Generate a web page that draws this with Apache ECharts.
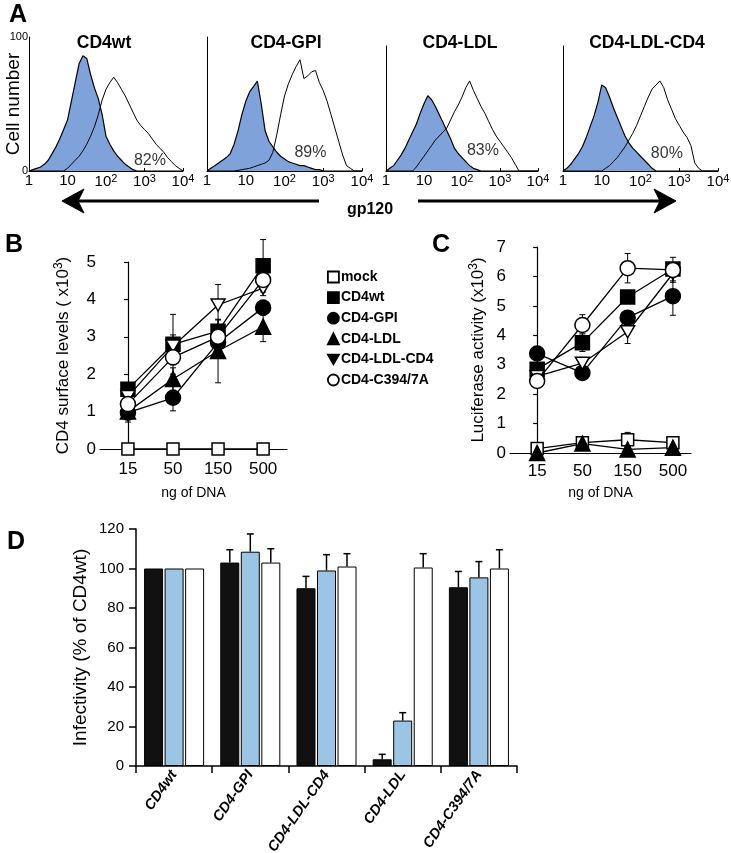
<!DOCTYPE html>
<html>
<head>
<meta charset="utf-8">
<script src="https://cdn.jsdelivr.net/npm/echarts@6/dist/echarts.min.js"></script>
<style>
  html, body { margin: 0; padding: 0; background: #fff; }
  #chart { width: 731px; height: 853px; }
</style>
</head>
<body>
<div id="chart"></div>
<script>
const FONT = '"Liberation Sans", Arial, sans-serif'

// ---- panel A: gp120 binding histograms, counts per 0.1 log10 bin (1 .. 10^4)
const logBins = [0, 0.1, 0.2, 0.3, 0.4, 0.5, 0.6, 0.7, 0.8, 0.9, 1, 1.1, 1.2, 1.3, 1.4, 1.5, 1.6, 1.7, 1.8, 1.9,
  2, 2.1, 2.2, 2.3, 2.4, 2.5, 2.6, 2.7, 2.8, 2.9, 3, 3.1, 3.2, 3.3, 3.4, 3.5, 3.6, 3.7, 3.8, 3.9, 4]
const histTitles = ['CD4wt', 'CD4-GPI', 'CD4-LDL', 'CD4-LDL-CD4']
const histPct = ['82%', '89%', '83%', '80%']

const wtFill = [0, 1, 2, 3, 5, 8, 13, 18, 24, 31, 38, 52, 66, 80, 86, 84, 72, 62, 54, 42,
  26, 20, 15, 11, 8, 5, 3, 1, 0, 0, 0, 0, 0, 0, 0, 0, 0, 0, 0, 0, 0]
const wtOpen = [0, 0, 0, 0, 0, 0, 0, 0, 0, 0, 2, 5, 8, 11, 15, 20, 26, 33, 42, 53,
  61, 66, 70, 66, 61, 56, 50, 44, 38, 34, 31, 28, 24, 20, 17, 14, 10, 7, 4, 2, 0]
const gpiFill = [0, 2, 4, 6, 8, 10, 13, 20, 30, 42, 52, 59, 63, 67, 50, 30, 22, 18, 14, 11,
  9, 7, 6, 5, 4, 4, 3, 2, 1, 1, 0, 0, 0, 0, 0, 0, 0, 0, 0, 0, 0]
const gpiOpen = [0, 0, 0, 0, 0, 0, 0, 0, 0.5, 1, 1.5, 2, 3, 4, 5, 6, 8, 14, 27, 42,
  56, 65, 72, 78, 83, 69, 71, 74, 75, 66, 60, 52, 42, 32, 22, 12, 4, 2, 0, 0, 0]
const ldlFill = [0, 2, 4, 8, 12, 17, 23, 29, 35, 43, 50, 56, 53, 48, 42, 36, 30, 24, 17, 13,
  10, 7, 4, 2, 1, 0, 0, 0, 0, 0, 0, 0, 0, 0, 0, 0, 0, 0, 0, 0, 0]
const ldlOpen = [0, 0, 0, 0, 0, 0, 0, 0, 3, 7, 11, 15, 19, 23, 26, 29, 32, 38, 44, 49,
  55, 62, 67, 60, 54, 48, 43, 37, 31, 26, 22, 18, 14, 10, 5, 0, 0, 0, 0, 0, 0]
const ldlcd4Fill = [0, 2, 5, 9, 13, 18, 25, 33, 41, 51, 64, 62, 55, 47, 40, 33, 26, 21, 17, 14,
  11, 8, 5, 2, 0, 0, 0, 0, 0, 0, 0, 0, 0, 0, 0, 0, 0, 0, 0, 0, 0]
const ldlcd4Open = [0, 0, 0, 0, 0, 0, 0, 0, 0, 0, 0, 2, 4, 7, 10, 14, 18, 23, 28, 34,
  41, 48, 55, 61, 64, 67, 62, 53, 46, 39, 34, 29, 25, 19, 6, 2, 0, 0, 0, 0, 0]

// ---- panels B and C
const doses = ['15', '50', '150', '500']
const constructs = ['mock', 'CD4wt', 'CD4-GPI', 'CD4-LDL', 'CD4-LDL-CD4', 'CD4-C394/7A']

// CD4 surface levels (x10^3) and error
const mockB = [0, 0, 0, 0]
const wtB = [1.6, 2.8, 3.15, 4.9]
const gpiB = [0.97, 1.37, 2.85, 3.78]
const ldlB = [1.0, 1.87, 2.62, 3.27]
const ldlcd4B = [1.4, 2.75, 3.85, 4.3]
const c394B = [1.2, 2.45, 3.0, 4.52]
const mockBErr = [0, 0, 0, 0]
const wtBErr = [0.1, 0.8, 0.3, 0.7]
const gpiBErr = [0.25, 0.35, 0.2, 0.2]
const ldlBErr = [0, 0.3, 0.85, 0.4]
const ldlcd4BErr = [0, 0.3, 0.55, 0.2]
const c394BErr = [0.1, 0.2, 0.25, 0.2]

// luciferase activity (x10^3) and error
const mockC = [0.15, 0.35, 0.45, 0.35]
const wtC = [2.85, 3.75, 5.3, 6.25]
const gpiC = [3.38, 2.72, 4.6, 5.33]
const ldlC = [0.0, 0.32, 0.12, 0.18]
const ldlcd4C = [2.6, 3.05, 4.12, 6.1]
const c394C = [2.45, 4.35, 6.28, 6.22]
const mockCErr = [0.05, 0.05, 0.25, 0.1]
const wtCErr = [0.2, 0.3, 0.2, 0.4]
const gpiCErr = [0.1, 0.15, 0.2, 0.65]
const ldlCErr = [0, 0.05, 0.05, 0.05]
const ldlcd4CErr = [0.15, 0.2, 0.4, 0.3]
const c394CErr = [0.15, 0.35, 0.5, 0.1]

// ---- panel D: infectivity (% of CD4wt)
const dCats = ['CD4wt', 'CD4-GPI', 'CD4-LDL-CD4', 'CD4-LDL', 'CD4-C394/7A']
const dBlack = [100, 103, 90, 3.4, 90.5]
const dBlue = [100, 108.5, 99, 23, 95.5]
const dWhite = [100, 103, 101, 100.5, 100]
const dBlackErr = [0, 6.5, 6, 2.5, 8]
const dBlueErr = [0, 9, 8, 4, 8]
const dWhiteErr = [0, 7, 6.5, 7, 9.5]

const valuesB = [mockB, wtB, gpiB, ldlB, ldlcd4B, c394B]
const errB = [mockBErr, wtBErr, gpiBErr, ldlBErr, ldlcd4BErr, c394BErr]
const valuesC = [mockC, wtC, gpiC, ldlC, ldlcd4C, c394C]
const errC = [mockCErr, wtCErr, gpiCErr, ldlCErr, ldlcd4CErr, c394CErr]
const histFill = [wtFill, gpiFill, ldlFill, ldlcd4Fill]
const histOpen = [wtOpen, gpiOpen, ldlOpen, ldlcd4Open]
const histPctAt = [[3.14, 8], [2.67, 14], [2.55, 15], [2.68, 13]]

const DOWN_TRI = 'path://M0,0L12,0L6,10.4Z'
const markers = {
  'mock': { symbol: 'rect', size: 12, fill: '#fff' },
  'CD4wt': { symbol: 'rect', size: 14, fill: '#000' },
  'CD4-GPI': { symbol: 'circle', size: 15, fill: '#000' },
  'CD4-LDL': { symbol: 'triangle', size: 15, fill: '#000' },
  'CD4-LDL-CD4': { symbol: DOWN_TRI, size: 14, fill: '#fff' },
  'CD4-C394/7A': { symbol: 'circle', size: 15, fill: '#fff' }
}

const black = '#000'
const chart = echarts.init(document.getElementById('chart'))

const histGrids = [
  { left: 29, top: 37, width: 154, height: 134 },
  { left: 207, top: 37, width: 155, height: 134 },
  { left: 386, top: 46, width: 152, height: 125 },
  { left: 563, top: 46, width: 155, height: 125 }
]
const histMax = [100, 100, 93, 93]

const grids = histGrids.concat([
  { left: 100, top: 262, width: 187, height: 187 },
  { left: 510, top: 247, width: 181, height: 206 },
  { left: 136, top: 529, width: 381, height: 237 }
]).map(g => Object.assign({ outerBoundsMode: 'none', containLabel: false }, g))

const decade = { 0: '1', 1: '10', 2: '10{s|2}', 3: '10{s|3}', 4: '10{s|4}' }
const sup = { fontSize: 11, fontFamily: FONT, color: black, verticalAlign: 'bottom', padding: [0, 0, 7, 0] }

const xAxes = []
const yAxes = []
histGrids.forEach((g, i) => {
  xAxes.push({
    type: 'value', gridIndex: i, min: 0, max: 4, interval: 1,
    axisLine: { show: true, lineStyle: { color: black, width: 1 } },
    axisTick: { show: true, inside: true, length: 3, lineStyle: { color: black } },
    splitLine: { show: false },
    axisLabel: {
      color: black, fontFamily: FONT, fontSize: 15, margin: 2,
      formatter: v => decade[v], rich: { s: sup }
    }
  })
  yAxes.push({
    type: 'value', gridIndex: i, min: 0, max: histMax[i], interval: 100,
    axisLine: { show: true, lineStyle: { color: black, width: 1 } },
    axisTick: { show: false },
    splitLine: { show: false },
    axisLabel: { show: i === 0, color: black, fontFamily: FONT, fontSize: 11, margin: 1 },
    name: i === 0 ? 'Cell number' : '',
    nameLocation: 'middle', nameGap: 6, nameMoveOverlap: false,
    nameTextStyle: { color: black, fontFamily: FONT, fontSize: 19 }
  })
})

function doseAxis(grid, min, max, margin, nameGap) {
  return {
    type: 'value', gridIndex: grid, min, max,
    axisLine: { show: true, lineStyle: { color: black, width: 1.2 } },
    axisTick: { show: false },
    splitLine: { show: false },
    axisLabel: {
      color: black, fontFamily: FONT, fontSize: 17, margin,
      customValues: [0, 1, 2, 3],
      formatter: v => doses[v] || ''
    },
    name: 'ng of DNA', nameLocation: 'middle', nameGap, nameMoveOverlap: false,
    nameTextStyle: { color: black, fontFamily: FONT, fontSize: 14 }
  }
}
function levelAxis(grid, max, name, nameGap) {
  return {
    type: 'value', gridIndex: grid, min: 0, max, interval: 1,
    axisLine: { show: true, lineStyle: { color: black, width: 1.2 } },
    axisTick: { show: true, length: 4, lineStyle: { color: black, width: 1.2 } },
    splitLine: { show: false },
    axisLabel: { color: black, fontFamily: FONT, fontSize: 17, margin: 4 },
    name, nameLocation: 'middle', nameGap, nameMoveOverlap: false,
    nameTextStyle: {
      color: black, fontFamily: FONT, fontSize: 17,
      rich: { s: Object.assign({}, sup, { fontSize: 12, padding: [0, 0, 8, 0] }) }
    }
  }
}
xAxes.push(doseAxis(4, -0.62, 3.53, 12, 37))
yAxes.push(levelAxis(4, 5, 'CD4 surface levels ( x10{s|3})', 27))
xAxes.push(doseAxis(5, -0.6, 3.4, 10, 33))
yAxes.push(levelAxis(5, 7, 'Luciferase activity (x10{s|3})', 22))

xAxes.push({
  type: 'category', gridIndex: 6, data: dCats,
  axisLine: { show: true, lineStyle: { color: black, width: 1.5 } },
  axisTick: { show: true, length: 7, lineStyle: { color: black, width: 1.5 } },
  axisLabel: {
    interval: 0, rotate: 55, margin: 6, color: black, fontFamily: FONT,
    fontSize: 14.5, fontWeight: 'bold', fontStyle: 'italic'
  }
})
yAxes.push({
  type: 'value', gridIndex: 6, min: 0, max: 120, interval: 20,
  axisLine: { show: true, lineStyle: { color: black, width: 1.5 } },
  axisTick: { show: true, length: 7, lineStyle: { color: black, width: 1.5 } },
  splitLine: { show: false },
  axisLabel: { color: black, fontFamily: FONT, fontSize: 15, margin: 12 },
  name: 'Infectivity (% of CD4wt)', nameLocation: 'middle', nameGap: 46, nameMoveOverlap: false,
  nameTextStyle: { color: black, fontFamily: FONT, fontSize: 19 }
})

const series = []

// histograms
histGrids.forEach((g, i) => {
  series.push({
    type: 'line', xAxisIndex: i, yAxisIndex: i, symbol: 'none',
    data: logBins.map((x, k) => [x, histFill[i][k]]),
    lineStyle: { color: black, width: 1.2 },
    areaStyle: { color: '#7fa2da', opacity: 1 }
  })
  series.push({
    type: 'line', xAxisIndex: i, yAxisIndex: i, symbol: 'none',
    data: logBins.map((x, k) => [x, histOpen[i][k]]),
    lineStyle: { color: black, width: 1 }
  })
  series.push({
    type: 'scatter', xAxisIndex: i, yAxisIndex: i, symbolSize: 0,
    data: [histPctAt[i]],
    label: { show: true, position: 'inside', formatter: histPct[i], color: black, fontFamily: FONT, fontSize: 16 }
  })
})

function errRender(params, api) {
  const e = api.value(2)
  if (!e) return
  const hi = api.coord([api.value(0), api.value(1) + e])
  const lo = api.coord([api.value(0), api.value(1) - e])
  const st = { stroke: black, lineWidth: 1 }
  return {
    type: 'group', children: [
      { type: 'line', shape: { x1: hi[0], y1: hi[1], x2: lo[0], y2: lo[1] }, style: st },
      { type: 'line', shape: { x1: hi[0] - 3, y1: hi[1], x2: hi[0] + 3, y2: hi[1] }, style: st },
      { type: 'line', shape: { x1: lo[0] - 3, y1: lo[1], x2: lo[0] + 3, y2: lo[1] }, style: st }
    ]
  }
}

function dosePanel(axis, values, errs) {
  constructs.forEach((name, c) => {
    const m = markers[name]
    series.push({
      type: 'custom', xAxisIndex: axis, yAxisIndex: axis, z: 1,
      renderItem: errRender,
      data: values[c].map((v, i) => [i, v, errs[c][i]])
    })
    series.push({
      name, type: 'line', xAxisIndex: axis, yAxisIndex: axis, z: 3,
      data: values[c].map((v, i) => [i, v]),
      symbol: m.symbol, symbolSize: m.size, symbolKeepAspect: true, showSymbol: true,
      itemStyle: { color: m.fill, borderColor: black, borderWidth: 1.5, opacity: 1 },
      lineStyle: { color: black, width: 1.3 }
    })
  })
}
dosePanel(4, valuesB, errB)
dosePanel(5, valuesC, errC)

// panel D bars
const dBars = [[dBlack, dBlackErr, '#111'], [dBlue, dBlueErr, '#9cc4e4'], [dWhite, dWhiteErr, '#fff']]
dBars.forEach(([vals, errs, color], k) => {
  series.push({
    type: 'bar', xAxisIndex: 6, yAxisIndex: 6, data: vals,
    barWidth: 19, barGap: '8%',
    itemStyle: { color, borderColor: black, borderWidth: 1 }
  })
  series.push({
    type: 'custom', xAxisIndex: 6, yAxisIndex: 6, z: 3,
    data: vals.map((v, i) => [i, v, errs[i]]),
    renderItem: (params, api) => {
      const e = api.value(2)
      if (!e) return
      const base = api.coord([api.value(0), api.value(1)])
      const top = api.coord([api.value(0), api.value(1) + e])
      const x = base[0] + (k - 1) * 20.5
      const st = { stroke: black, lineWidth: 1.5 }
      return {
        type: 'group', children: [
          { type: 'line', shape: { x1: x, y1: base[1], x2: x, y2: top[1] }, style: st },
          { type: 'line', shape: { x1: x - 3.5, y1: top[1], x2: x + 3.5, y2: top[1] }, style: st }
        ]
      }
    }
  })
})

const legendIcons = {
  'mock': ['rect', '#fff'], 'CD4wt': ['rect', '#000'], 'CD4-GPI': ['circle', '#000'],
  'CD4-LDL': ['triangle', '#000'], 'CD4-LDL-CD4': [DOWN_TRI, '#000'], 'CD4-C394/7A': ['circle', '#fff']
}

function txt(text, x, y, size, weight) {
  return {
    type: 'text', x, y,
    style: { text, fill: black, fontFamily: FONT, fontSize: size, fontWeight: weight || 'normal', align: 'center', verticalAlign: 'middle' }
  }
}
const arrowStyle = { fill: black, stroke: black, lineWidth: 1 }

chart.setOption({
  animation: false,
  backgroundColor: '#fff',
  grid: grids,
  xAxis: xAxes,
  yAxis: yAxes,
  series,
  legend: {
    orient: 'vertical', left: 327, top: 270, padding: 0,
    itemWidth: 11, itemHeight: 11, itemGap: 6.6, selectedMode: false,
    textStyle: { color: black, fontFamily: FONT, fontSize: 14, fontWeight: 'bold', padding: [0, 0, 0, -3] },
    data: constructs.map(n => ({
      name: n, icon: legendIcons[n][0],
      itemStyle: { color: legendIcons[n][1], borderColor: black, borderWidth: 1.8 }
    }))
  },
  graphic: [
    txt('A', 18, 15, 25, 'bold'),
    txt('B', 14, 245, 25, 'bold'),
    txt('C', 441, 245, 25, 'bold'),
    txt('D', 16, 542, 25, 'bold'),
    txt(histTitles[0], 104, 43, 17.5, 'bold'),
    txt(histTitles[1], 286, 43, 17.5, 'bold'),
    txt(histTitles[2], 460, 43, 17.5, 'bold'),
    txt(histTitles[3], 647, 43, 17.5, 'bold'),
    txt('gp120', 370, 210, 16, 'bold'),
    { type: 'line', shape: { x1: 74, y1: 201, x2: 319, y2: 201 }, style: { stroke: black, lineWidth: 3 } },
    { type: 'polygon', shape: { points: [[62, 201], [84, 189], [78, 201], [84, 213]] }, style: arrowStyle },
    { type: 'line', shape: { x1: 418, y1: 201, x2: 664, y2: 201 }, style: { stroke: black, lineWidth: 3 } },
    { type: 'polygon', shape: { points: [[676, 201], [654, 189], [660, 201], [654, 213]] }, style: arrowStyle }
  ]
})
</script>
</body>
</html>
